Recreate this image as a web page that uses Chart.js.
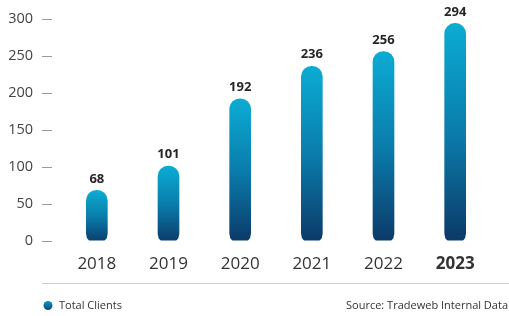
<!DOCTYPE html>
<html>
<head>
<meta charset="utf-8">
<script src="https://cdn.jsdelivr.net/npm/chart.js@4"></script>
<style>
  html, body { margin: 0; padding: 0; background: #fff; }
  #wrap { width: 509px; height: 316px; }
</style>
</head>
<body>
<div id="wrap"><canvas id="clientsChart" width="509" height="316"></canvas></div>
<script>
const years = ["2018", "2019", "2020", "2021", "2022", "2023"];
const totalClients = [68, 101, 192, 236, 256, 294];
const yTicks = [0, 50, 100, 150, 200, 250, 300];

const FONT = "'Open Sans', 'Noto Sans', sans-serif";
const BAR_BASE = -4;

// gradient per bar, cyan at the top to navy at the bottom
function barGradient(context) {
  const chart = context.chart;
  const y = chart.scales && chart.scales.y;
  if (!chart.chartArea || !y || context.type !== "data") return "#0a7aa8";
  const top = y.getPixelForValue(context.raw);
  const bottom = y.getPixelForValue(BAR_BASE);
  if (!isFinite(top) || !isFinite(bottom) || top === bottom) return "#0a7aa8";
  const g = chart.ctx.createLinearGradient(0, top, 0, bottom);
  g.addColorStop(0, "#0bacd3");
  g.addColorStop(0.5, "#0a7cab");
  g.addColorStop(1, "#0c3866");
  return g;
}

const extras = {
  id: "extras",
  afterDatasetsDraw(chart) {
    const ctx = chart.ctx;
    const y = chart.scales.y;
    const meta = chart.getDatasetMeta(0);

    // value labels
    ctx.save();
    ctx.font = "bold 13px " + FONT;
    ctx.fillStyle = "#262626";
    ctx.textAlign = "center";
    ctx.textBaseline = "bottom";
    meta.data.forEach((bar, i) => {
      ctx.fillText(totalClients[i], bar.x, bar.y - 5);
    });

    // y tick dashes
    ctx.strokeStyle = "#9a9a9a";
    ctx.lineWidth = 1;
    yTicks.forEach(v => {
      const py = Math.round(y.getPixelForValue(v)) + 0.5;
      ctx.beginPath();
      ctx.moveTo(42, py);
      ctx.lineTo(52, py);
      ctx.stroke();
    });

    // separator line
    ctx.strokeStyle = "#a3dbeb";
    ctx.beginPath();
    ctx.moveTo(42, 283.5);
    ctx.lineTo(509, 283.5);
    ctx.stroke();

    // legend dot
    const g = ctx.createLinearGradient(0, 300, 0, 310);
    g.addColorStop(0, "#0aa3cc");
    g.addColorStop(1, "#0c4677");
    ctx.fillStyle = g;
    ctx.beginPath();
    ctx.arc(48, 305.5, 4.5, 0, Math.PI * 2);
    ctx.fill();

    ctx.font = "11px " + FONT;
    ctx.fillStyle = "#333";
    ctx.textBaseline = "middle";
    ctx.textAlign = "left";
    ctx.fillText("Total Clients", 59, 305.5);
    ctx.textAlign = "right";
    ctx.fillText("Source: Tradeweb Internal Data", 508, 305.5);
    ctx.restore();
  }
};

const data = {
  labels: years,
  datasets: [
    {
      label: "Total Clients",
      data: totalClients,
      base: BAR_BASE,
      backgroundColor: barGradient,
      borderRadius: 11,
      borderSkipped: false,
      barThickness: 21,
    },
  ],
};

const config = {
  type: "bar",
  data: data,
  options: {
    responsive: false,
    animation: false,
    layout: {
      padding: { left: 9, right: 18, top: 19, bottom: 37 },
    },
    scales: {
      x: {
        grid: { display: false },
        border: { display: false },
        ticks: {
          padding: 5,
          color: "#333",
          font: (c) => ({
            family: FONT,
            size: 17,
            weight: c.index === years.length - 1 ? "bold" : "normal",
          }),
        },
      },
      y: {
        min: 0,
        max: 300,
        afterBuildTicks: (scale) => {
          scale.ticks = yTicks.map(v => ({ value: v }));
        },
        afterFit: (scale) => {
          scale.width = 52;
          scale.paddingTop = 0;
          scale.paddingBottom = 0;
        },
        grid: { display: false },
        border: { display: false },
        ticks: {
          padding: 20,
          color: "#444",
          font: { family: FONT, size: 14.5 },
        },
      },
    },
    plugins: {
      legend: { display: false },
      title: { display: false },
      tooltip: { enabled: false },
    },
  },
  plugins: [extras],
};

const ctx = document.getElementById("clientsChart").getContext("2d");
new Chart(ctx, config);
</script>
</body>
</html>
